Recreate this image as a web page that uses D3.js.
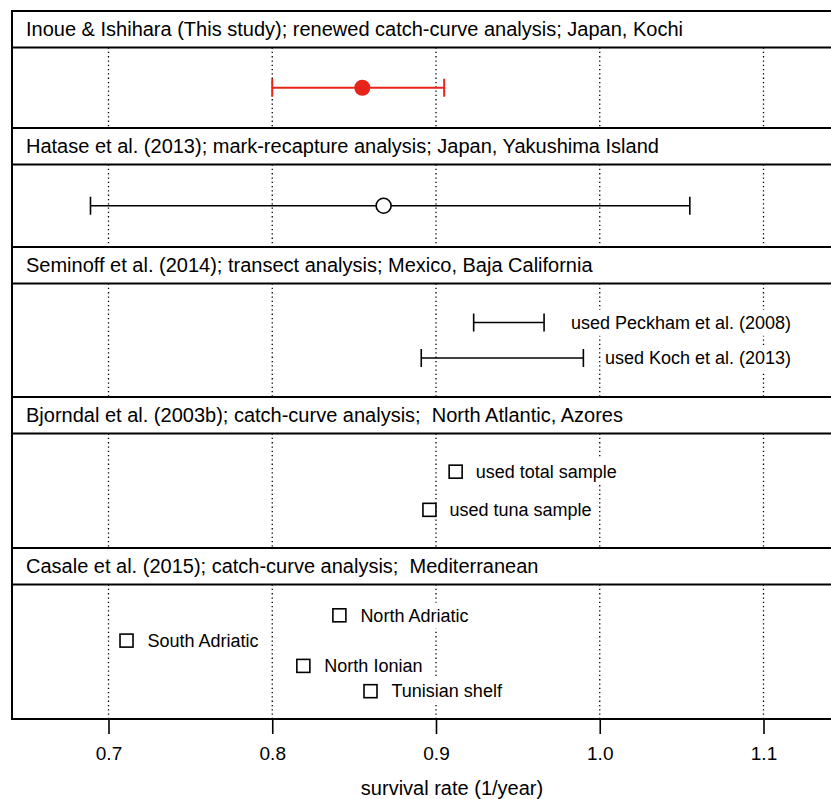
<!DOCTYPE html>
<html>
<head>
<meta charset="utf-8">
<script src="https://cdn.jsdelivr.net/npm/d3@7"></script>
<style>
  html, body { margin: 0; padding: 0; background: #fff; }
  svg { display: block; }
  text { font-family: "Liberation Sans", Arial, Helvetica, sans-serif; fill: #000; white-space: pre; }
</style>
</head>
<body>
<svg id="chart" width="831" height="799"></svg>
<script>
// ---------------- data ----------------
const studyTitles = [
  "Inoue & Ishihara (This study); renewed catch-curve analysis; Japan, Kochi",
  "Hatase et al. (2013); mark-recapture analysis; Japan, Yakushima Island",
  "Seminoff et al. (2014); transect analysis; Mexico, Baja California",
  "Bjorndal et al. (2003b); catch-curve analysis;  North Atlantic, Azores",
  "Casale et al. (2015); catch-curve analysis;  Mediterranean"
];

const inoueEstimate = [0.855];
const inoueLower = [0.800];
const inoueUpper = [0.905];

const hataseEstimate = [0.868];
const hataseLower = [0.689];
const hataseUpper = [1.055];

const seminoffLabels = ["used Peckham et al. (2008)", "used Koch et al. (2013)"];
const seminoffLower = [0.923, 0.891];
const seminoffUpper = [0.966, 0.990];

const bjorndalLabels = ["used total sample", "used tuna sample"];
const bjorndalValues = [0.912, 0.896];

const casaleLabels = ["North Adriatic", "South Adriatic", "North Ionian", "Tunisian shelf"];
const casaleValues = [0.841, 0.711, 0.819, 0.860];

const tickValues = [0.7, 0.8, 0.9, 1.0, 1.1];
const tickLabels = ["0.7", "0.8", "0.9", "1.0", "1.1"];
const axisTitle = "survival rate (1/year)";

// ---------------- layout ----------------
const svg = d3.select("#chart");
const left = 12, right = 892;
const x = d3.scaleLinear().domain([0.7, 1.1]).range([108.5, 763.5]);
const headerH = 36.5;
const panelTops = [11, 128, 247, 397, 548];
const panelBottom = 719;
const panels = studyTitles.map((t, i) => ({
  title: t,
  top: panelTops[i],
  bottom: i < panelTops.length - 1 ? panelTops[i + 1] : panelBottom
}));
panels.forEach(p => { p.cTop = p.top + headerH; });

const red = "#e8241a";
const headerFont = 20;
const labelFont = 18;
const tickFont = 19;
const titleFont = 20;

const pg = svg.selectAll("g.panel").data(panels).join("g").attr("class", "panel");
pg.append("rect")
  .attr("x", left).attr("y", d => d.top)
  .attr("width", right - left).attr("height", d => d.bottom - d.top)
  .attr("fill", "#fff");

pg.each(function(p) {
  d3.select(this).selectAll("line.grid").data(tickValues).join("line")
    .attr("class", "grid")
    .attr("x1", d => x(d)).attr("x2", d => x(d))
    .attr("y1", p.cTop).attr("y2", p.bottom)
    .attr("stroke", "#000").attr("stroke-width", 1.3)
    .attr("stroke-dasharray", "1.3,3");
});

function bgLabel(g, tx, ty, txt, anchor) {
  const t = g.append("text").attr("x", tx).attr("y", ty)
    .attr("dy", "0.35em").attr("font-size", labelFont)
    .attr("text-anchor", anchor || "start").text(txt);
  const bb = t.node().getBBox();
  g.insert("rect", () => t.node())
    .attr("x", bb.x - 4).attr("y", bb.y - 3)
    .attr("width", bb.width + 8).attr("height", bb.height + 6)
    .attr("fill", "#fff");
  return t;
}

function errorBar(g, lo, hi, yy, color, w) {
  g.append("line").attr("x1", x(lo)).attr("x2", x(hi)).attr("y1", yy).attr("y2", yy)
    .attr("stroke", color).attr("stroke-width", w);
  [lo, hi].forEach(v => {
    g.append("line").attr("x1", x(v)).attr("x2", x(v)).attr("y1", yy - 9).attr("y2", yy + 9)
      .attr("stroke", color).attr("stroke-width", w);
  });
}

// Panel 1
{
  const p = panels[0];
  const g = svg.append("g");
  const yy = (p.cTop + p.bottom) / 2;
  inoueEstimate.forEach((v, i) => {
    errorBar(g, inoueLower[i], inoueUpper[i], yy, red, 2);
    g.append("circle").attr("cx", x(v)).attr("cy", yy).attr("r", 8).attr("fill", red);
  });
}

// Panel 2
{
  const p = panels[1];
  const g = svg.append("g");
  const yy = (p.cTop + p.bottom) / 2;
  hataseEstimate.forEach((v, i) => {
    errorBar(g, hataseLower[i], hataseUpper[i], yy, "#000", 1.6);
    g.append("circle").attr("cx", x(v)).attr("cy", yy).attr("r", 7.5)
      .attr("fill", "#fff").attr("stroke", "#000").attr("stroke-width", 1.6);
  });
}

// Panel 3
{
  const p = panels[2];
  const g = svg.append("g");
  const y = d3.scalePoint().domain(seminoffLabels).range([p.cTop, p.bottom]).padding(1.1);
  seminoffLabels.forEach((lab, i) => {
    errorBar(g, seminoffLower[i], seminoffUpper[i], y(lab), "#000", 1.6);
    bgLabel(g, 791, y(lab), lab, "end");
  });
}

// Panel 4
{
  const p = panels[3];
  const g = svg.append("g");
  const y = d3.scalePoint().domain(bjorndalLabels).range([p.cTop, p.bottom]).padding(1.0);
  bjorndalLabels.forEach((lab, i) => {
    g.append("rect").attr("x", x(bjorndalValues[i]) - 6.5).attr("y", y(lab) - 6.5)
      .attr("width", 13).attr("height", 13)
      .attr("fill", "#fff").attr("stroke", "#000").attr("stroke-width", 1.6);
    bgLabel(g, x(bjorndalValues[i]) + 20, y(lab), lab);
  });
}

// Panel 5
{
  const p = panels[4];
  const g = svg.append("g");
  const y = d3.scalePoint().domain(casaleLabels).range([p.cTop + 3, p.bottom]).padding(1.1);
  casaleLabels.forEach((lab, i) => {
    g.append("rect").attr("x", x(casaleValues[i]) - 6.5).attr("y", y(lab) - 6.5)
      .attr("width", 13).attr("height", 13)
      .attr("fill", "#fff").attr("stroke", "#000").attr("stroke-width", 1.6);
    bgLabel(g, x(casaleValues[i]) + 21, y(lab), lab);
  });
}

// headers & outlines
panels.forEach(p => {
  svg.append("rect").attr("x", left).attr("y", p.top)
    .attr("width", right - left).attr("height", headerH)
    .attr("fill", "#fff").attr("stroke", "#000").attr("stroke-width", 2);
  svg.append("text").attr("x", 26).attr("y", p.top + headerH / 2)
    .attr("dy", "0.36em").attr("font-size", headerFont).text(p.title);
  svg.append("rect").attr("x", left).attr("y", p.top)
    .attr("width", right - left).attr("height", p.bottom - p.top)
    .attr("fill", "none").attr("stroke", "#000").attr("stroke-width", 2);
});

// x axis
const axis = d3.axisBottom(x).tickValues(tickValues)
  .tickFormat((d, i) => tickLabels[i]).tickSize(14).tickPadding(13);
const ag = svg.append("g").attr("transform", `translate(0,${panelBottom + 1})`).call(axis);
ag.select(".domain").remove();
ag.selectAll(".tick line").attr("stroke", "#000").attr("stroke-width", 1.6);
ag.selectAll(".tick text").attr("font-size", tickFont)
  .attr("font-family", '"Liberation Sans", Arial, sans-serif').attr("fill", "#000");

svg.append("text").attr("x", (left + right) / 2).attr("y", 788)
  .attr("dy", "0.35em").attr("text-anchor", "middle").attr("font-size", titleFont)
  .text(axisTitle);
</script>
</body>
</html>
